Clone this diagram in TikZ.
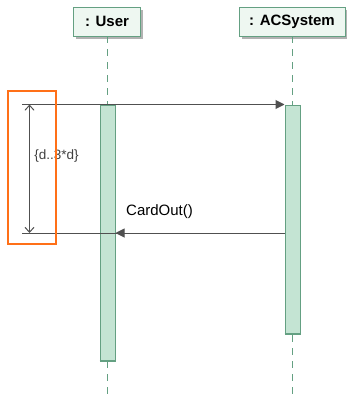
\documentclass[tikz,border=0pt]{standalone}
\usepackage{fontspec}
\setmainfont{Liberation Sans}
\usetikzlibrary{arrows.meta,positioning,shadows}
\definecolor{lifegreen}{RGB}{100,160,130}
\definecolor{actfill}{RGB}{196,228,211}
\definecolor{headfill}{RGB}{238,247,241}
\definecolor{msggray}{RGB}{80,80,80}
\definecolor{durorange}{RGB}{255,112,24}
\tikzset{
	head/.style={draw=lifegreen, fill=headfill, line width=0.9pt, minimum height=29pt,
		font=\fontsize{15}{18}\selectfont\bfseries,
		drop shadow={shadow xshift=2.5pt, shadow yshift=-2.5pt, fill=black!30, opacity=1}},
	lifeline/.style={draw=lifegreen, line width=1pt, dash pattern=on 7pt off 6pt},
	activation/.style={draw=lifegreen, fill=actfill, line width=1pt, minimum width=15pt, inner sep=0pt},
	message/.style={draw=msggray, line width=1pt, -{Triangle[length=9pt,width=9pt]}},
	duration/.style={draw=msggray, line width=1pt, {Straight Barb[length=5pt,width=9pt]}-{Straight Barb[length=5pt,width=9pt]}}
}

\begin{document}
\begin{tikzpicture}[x=1pt, y=-1pt]
	\useasboundingbox (0,0) rectangle (347,394);
	% lifeline heads
	\node[head, minimum width=67pt] (user) at (107,21.5) {: User};
	\node[head, minimum width=106pt] (acsys) at (292,21.5) {: ACSystem};
	\coordinate (userend) at (107,394);
	\coordinate (acsysend) at (292,394);
	\draw[lifeline] (user.south) -- (userend);
	\draw[lifeline] (acsys.south) -- (acsysend);
	% activations
	\node[activation, minimum height=255pt, anchor=north] (useract) at (107.5,104.5) {};
	\node[activation, minimum height=228pt, anchor=north] (acsysact) at (292.5,104.5) {};
	\draw[lifegreen, line width=2pt] (useract.south west) -- (useract.south east);
	\draw[lifegreen, line width=2pt] (acsysact.south west) -- (acsysact.south east);
	% messages
	\coordinate (msgstart) at (22,104.5);
	\coordinate (msgend) at (22,233);
	\draw[message] (msgstart) -- (acsysact.north west);
	\draw[msggray, line width=1pt] (acsysact.west |- msgend) -- (msgend);
	\draw[message] (acsysact.west |- msgend) -- (useract.east |- msgend);
	\node[anchor=south west, font=\fontsize{15}{18}\selectfont, inner sep=0pt] (cardout) at (126,219) {CardOut()};
	% duration constraint
	\coordinate (durtop) at (29.5,104.5);
	\coordinate (durbot) at (29.5,233);
	\draw[duration] (durtop) -- (durbot);
	\node[font=\fontsize{13.5}{16}\selectfont, text=black!75, inner sep=0pt] (durlabel) at (56.5,156) {\{d..3*d\}};
	\draw[durorange, line width=2pt] (8,91) rectangle (56,244);
\end{tikzpicture}
\end{document}
